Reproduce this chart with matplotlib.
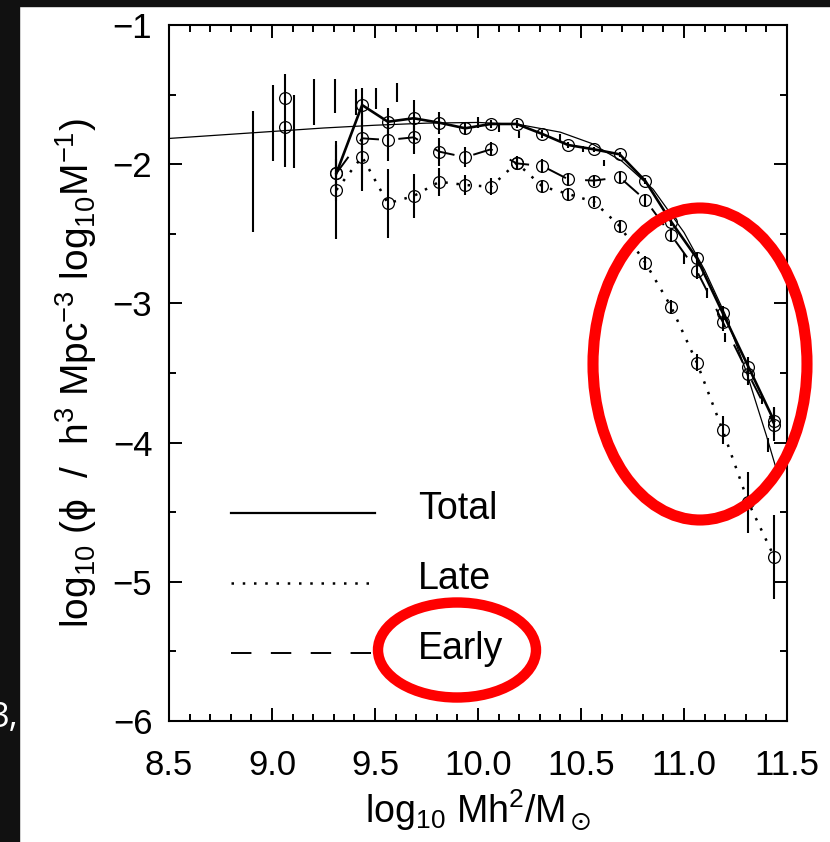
import matplotlib
matplotlib.use('Agg')
import matplotlib.pyplot as plt
from matplotlib.patches import Ellipse, Rectangle
from matplotlib.ticker import MultipleLocator, FuncFormatter

plt.rcParams['font.family'] = ['Liberation Sans', 'DejaVu Sans']
plt.rcParams['mathtext.fontset'] = 'custom'
plt.rcParams['mathtext.rm'] = 'Liberation Sans'
plt.rcParams['mathtext.it'] = 'Liberation Sans:italic'
plt.rcParams['mathtext.default'] = 'regular'

# mass bins (log10 M h^2 / Msun)
bin_x = [9.3125, 9.4375, 9.5625, 9.6875, 9.8125, 9.9375, 10.0625, 10.1875, 10.3125,
         10.4375, 10.5625, 10.6875, 10.8125, 10.9375, 11.0625, 11.1875, 11.3125, 11.4375]

total_y = [-2.065, -1.575, -1.695, -1.670, -1.702, -1.742, -1.711, -1.711, -1.783,
           -1.862, -1.893, -1.929, -2.121, -2.413, -2.676, -3.067, -3.455, -3.845]
total_err = [0.10, 0.12, 0.10, 0.13, 0.08, 0.04, 0.03, 0.03, 0.03,
             0.02, 0.02, 0.02, 0.02, 0.03, 0.04, 0.05, 0.07, 0.10]

early_y = [-2.065, -1.814, -1.826, -1.807, -1.910, -1.950, -1.893, -1.994, -2.013,
           -2.108, -2.118, -2.094, -2.257, -2.509, -2.767, -3.131, -3.507, -3.870]
early_err = [0.20, 0.30, 0.15, 0.12, 0.10, 0.07, 0.05, 0.05, 0.05,
             0.04, 0.04, 0.04, 0.04, 0.05, 0.06, 0.07, 0.08, 0.12]

late_y = [-2.185, -1.946, -2.281, -2.229, -2.126, -2.149, -2.162, -1.990, -2.160,
          -2.214, -2.270, -2.444, -2.708, -3.024, -3.426, -3.910, -4.430, -4.820]
late_err = [0.35, 0.25, 0.25, 0.16, 0.10, 0.07, 0.06, 0.05, 0.04,
            0.04, 0.04, 0.04, 0.05, 0.05, 0.06, 0.10, 0.22, 0.30]

# fitted function (thin line)
fit_x = [8.5, 8.75, 9.0, 9.25, 9.5, 9.75, 10.0, 10.2, 10.4, 10.55, 10.7, 10.85,
         11.0, 11.1, 11.2, 11.3, 11.4, 11.45]
fit_y = [-1.815, -1.79, -1.765, -1.74, -1.72, -1.705, -1.70, -1.715, -1.77, -1.85,
         -1.98, -2.18, -2.49, -2.76, -3.08, -3.48, -3.95, -4.20]

# extra points from a second estimate
other_x = [9.0625, 9.0625]
other_y = [-1.525, -1.735]

# error bars with no visible marker
bar_x = [8.906, 9.006, 9.0625, 9.106, 9.204, 9.305, 9.406, 9.503, 9.607, 10.00, 10.10,
         10.20, 10.40, 10.51, 10.61, 11.00, 11.11, 11.20, 11.38, 11.41]
bar_lo = [-2.49, -1.98, -2.02, -2.03, -1.72, -1.63, -1.65, -1.60, -1.55, -1.74, -1.77,
          -1.81, -1.83, -1.91, -2.01, -2.72, -2.96, -3.28, -3.72, -4.07]
bar_hi = [-1.62, -1.43, -1.35, -1.50, -1.39, -1.39, -1.46, -1.45, -1.42, -1.66, -1.72,
          -1.76, -1.78, -1.87, -1.97, -2.64, -2.89, -3.21, -3.66, -3.97]

legend_labels = ['Total', 'Late', 'Early']

DOTTED = (0, (1, 3.5))
DASHED = (0, (10.5, 10))

fig = plt.figure(figsize=(8.3, 8.42), dpi=100)
W, H = 830, 842
ax = fig.add_axes([169 / W, 121 / H, 618 / W, 696 / H])

ax.plot(fit_x, fit_y, color='k', lw=0.9)
ax.vlines(bar_x, bar_lo, bar_hi, color='k', lw=1.5)

mk = dict(fmt='o', mfc='none', mec='k', ms=8.5, mew=0.9, ecolor='k',
          elinewidth=1.5, capsize=0)
ax.plot(bin_x, total_y, color='k', lw=1.9, ls='-')
ax.plot(bin_x, early_y, color='k', lw=1.4, ls=DASHED)
ax.plot(bin_x, late_y, color='k', lw=1.8, ls=DOTTED)
ax.errorbar(bin_x, total_y, yerr=total_err, **mk)
ax.errorbar(bin_x, early_y, yerr=early_err, **mk)
ax.errorbar(bin_x, late_y, yerr=late_err, **mk)
ax.plot(other_x, other_y, 'o', mfc='none', mec='k', ms=8.5, mew=0.9)

# legend drawn by hand
styles = ['-', DOTTED, DASHED]
widths = [1.6, 1.8, 1.4]
for lab, st, lw_, yy in zip(legend_labels, styles, widths, [0.299, 0.198, 0.098]):
    ax.plot([0.100, 0.333], [yy, yy], transform=ax.transAxes, color='k', ls=st, lw=lw_)
    ax.text(0.403, yy + 0.006, lab, transform=ax.transAxes, fontsize=27,
            ha='left', va='center')

ax.set_xlim(8.5, 11.5)
ax.set_ylim(-6, -1)
ax.xaxis.set_major_locator(MultipleLocator(0.5))
ax.xaxis.set_minor_locator(MultipleLocator(0.1))
ax.yaxis.set_major_locator(MultipleLocator(1))
ax.yaxis.set_minor_locator(MultipleLocator(0.5))
ax.xaxis.set_major_formatter(FuncFormatter(lambda v, p: f'{v:.1f}'))
ax.yaxis.set_major_formatter(FuncFormatter(lambda v, p: f'\u2212{abs(int(round(v)))}'))
ax.tick_params(which='both', direction='in', top=True, right=True, width=1.4)
ax.tick_params(which='major', length=9.5, labelsize=25)
ax.tick_params(which='minor', length=5)
ax.tick_params(axis='x', which='major', pad=20)
ax.tick_params(axis='y', which='major', pad=12)
for s in ax.spines.values():
    s.set_linewidth(1.5)

ax.set_xlabel('log$_{10}$ Mh$^2$/M$_\\odot$', fontsize=27, labelpad=4)
ax.set_ylabel('log$_{10}$ (\u03d5  /  h$^3$ Mpc$^{-3}$ log$_{10}$M$^{-1}$)', fontsize=28,
              labelpad=10)

# red annotation ellipses
fig.patches.append(Ellipse((700 / W, 1 - 364 / H), 214 / W, 312 / H, fill=False,
                           ec='#ff0000', lw=8, transform=fig.transFigure))
fig.patches.append(Ellipse((457 / W, 1 - 650 / H), 158 / W, 95 / H, fill=False,
                           ec='#ff0000', lw=7.5, transform=fig.transFigure))

# dark frame of the screenshot
fig.patches.append(Rectangle((0, 0), 19 / W, 1, color='#111111', transform=fig.transFigure))
fig.patches.append(Rectangle((0, 1 - 6 / H), 1, 6 / H, color='#111111',
                             transform=fig.transFigure))
fig.text(18 / W, 1 - 718 / H, '3,', color='white', fontsize=25, ha='right', va='center',
         family=['Open Sans', 'DejaVu Sans'])

fig.savefig('out.png', dpi=100)
